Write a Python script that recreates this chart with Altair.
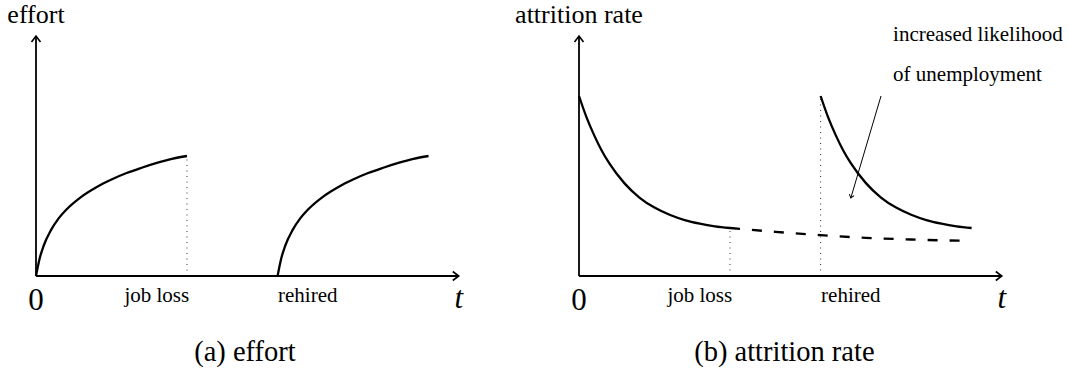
import altair as alt
import pandas as pd

# ---- key moments on the time axis (model time units) ----
t_start, t_job_loss, t_rehired = 0, 10, 16
t_axis_end = 28
level_axis_end = 10

# ---- (a) effort: concave rise during each employment spell ----
effort_spell1_t = [0, 0.25, 0.5, 1, 1.5, 2, 3, 4, 5, 6, 7, 8, 9, 10]
effort_spell1 = [0, 0.75, 1.25, 1.92, 2.40, 2.76, 3.30, 3.70, 4.02, 4.29, 4.51, 4.71, 4.88, 5.0]
effort_spell2_t = [16, 16.25, 16.5, 17, 17.5, 18, 19, 20, 21, 22, 23, 24, 25, 26]
effort_spell2 = [0, 0.75, 1.25, 1.92, 2.40, 2.76, 3.30, 3.70, 4.02, 4.29, 4.51, 4.71, 4.88, 5.0]

# ---- (b) attrition rate: decays with tenure, resets after rehiring ----
attr_spell1_t = [0, 0.5, 1, 1.5, 2, 3, 4, 5, 6, 7, 8, 9, 10]
attr_spell1 = [7.5, 6.61, 5.87, 5.23, 4.70, 3.87, 3.27, 2.85, 2.55, 2.33, 2.18, 2.07, 2.0]
attr_spell2_t = [16, 16.5, 17, 17.5, 18, 19, 20, 21, 22, 23, 24, 25, 26]
attr_spell2 = [7.5, 6.61, 5.87, 5.23, 4.70, 3.87, 3.27, 2.85, 2.55, 2.33, 2.18, 2.07, 2.0]
# path had the job not been lost
attr_no_loss_t = [10, 13, 16, 19, 22, 26]
attr_no_loss = [2.0, 1.84, 1.70, 1.59, 1.52, 1.46]

# ---- texts ----
tick_names = ["0", "job loss", "rehired", "t"]
tick_t = [0, 8, 18, 28]
note_lines = ["increased likelihood", "of unemployment"]
note_t, note_levels = 20.8, [9.79, 8.12]
note_arrow_t = [20, 18]
note_arrow_level = [7.5, 3.25]

SERIF = "Times New Roman, Liberation Serif, Times, serif"
ARROW = "M-1.2,-0.9L0,0L-1.2,0.9"
BLACK = "#000000"


def enc(x_domain):
    x = alt.X("t:Q", scale=alt.Scale(domain=x_domain, nice=False, zero=False), axis=None)
    y = alt.Y("v:Q", scale=alt.Scale(domain=[-4, 11.5], nice=False, zero=False), axis=None)
    x2 = alt.X2("t2:Q")
    y2 = alt.Y2("v2:Q")
    return x, y, x2, y2


def curve(t, v, x, y, dash=None):
    mk = dict(color=BLACK, strokeWidth=2.3, interpolate="monotone")
    if dash:
        mk["strokeDash"] = dash
    return alt.Chart(pd.DataFrame({"t": t, "v": v})).mark_line(**mk).encode(x=x, y=y)


def panel(title, caption, caption_t, x_domain, width, curves, dotted_t, dotted_top, extra=None):
    x, y, x2, y2 = enc(x_domain)
    axes = alt.Chart(pd.DataFrame({
        "t": [t_start, t_start], "v": [0, 0],
        "t2": [t_axis_end, t_start], "v2": [0, level_axis_end],
    })).mark_rule(color=BLACK, strokeWidth=1.8).encode(x=x, y=y, x2=x2, y2=y2)
    heads = alt.Chart(pd.DataFrame({
        "t": [t_axis_end, t_start], "v": [0, level_axis_end], "a": [0, 270],
    })).mark_point(shape=ARROW, filled=False, size=100, strokeWidth=1.6,
                   color=BLACK, opacity=1).encode(
        x=x, y=y, angle=alt.Angle("a:Q", scale=None))
    dotted = alt.Chart(pd.DataFrame({
        "t": dotted_t, "v": [0] * len(dotted_t), "t2": dotted_t, "v2": dotted_top,
    })).mark_rule(color="#333333", strokeWidth=1, strokeDash=[1, 4.5]).encode(
        x=x, y=y, x2=x2, y2=y2)
    ylabel = alt.Chart(pd.DataFrame({"t": [t_start], "v": [10.54], "s": [title]})).mark_text(
        font=SERIF, fontSize=26, align="center", baseline="alphabetic", color=BLACK
    ).encode(x=x, y=y, text="s:N")
    ticks_df = pd.DataFrame({"t": tick_t, "s": tick_names,
                             "v": [-1.42, -1.08, -1.08, -1.33]})
    tick_small = alt.Chart(ticks_df[ticks_df.s.isin(["job loss", "rehired"])]).mark_text(
        font=SERIF, fontSize=21, align="center", baseline="alphabetic", color=BLACK
    ).encode(x=x, y=y, text="s:N")
    tick_zero = alt.Chart(ticks_df[ticks_df.s == "0"]).mark_text(
        font=SERIF, fontSize=31, align="center", baseline="alphabetic", color=BLACK
    ).encode(x=x, y=y, text="s:N")
    tick_t_lbl = alt.Chart(ticks_df[ticks_df.s == "t"]).mark_text(
        font=SERIF, fontSize=31, fontStyle="italic", align="center",
        baseline="alphabetic", color=BLACK
    ).encode(x=x, y=y, text="s:N")
    cap = alt.Chart(pd.DataFrame({"t": [caption_t], "v": [-3.54], "s": [caption]})).mark_text(
        font=SERIF, fontSize=28.5, align="center", baseline="alphabetic", color=BLACK
    ).encode(x=x, y=y, text="s:N")
    layers = [dotted, axes, heads] + [c(x, y) for c in curves] + \
        [ylabel, tick_small, tick_zero, tick_t_lbl, cap]
    if extra:
        layers += extra(x, y)
    return alt.layer(*layers).properties(width=width, height=372)


def note(x, y):
    txt = alt.Chart(pd.DataFrame({"t": [note_t] * 2, "v": note_levels, "s": note_lines})).mark_text(
        font=SERIF, fontSize=21, align="left", baseline="alphabetic", color=BLACK
    ).encode(x=x, y=y, text="s:N")
    line = alt.Chart(pd.DataFrame({"t": note_arrow_t, "v": note_arrow_level})).mark_line(
        color=BLACK, strokeWidth=1).encode(x=x, y=y)
    head = alt.Chart(pd.DataFrame({"t": note_arrow_t[1:], "v": note_arrow_level[1:]})).mark_point(
        shape=ARROW, filled=False, size=30, strokeWidth=1, color=BLACK, opacity=1,
        angle=106.5).encode(x=x, y=y)
    return [line, head, txt]


panel_a = panel(
    "effort", "(a) effort", 13.84, [-2.384, 33.05], 535,
    [lambda x, y: curve(effort_spell1_t, effort_spell1, x, y),
     lambda x, y: curve(effort_spell2_t, effort_spell2, x, y)],
    [t_job_loss], [effort_spell1[-1]],
)

panel_b = panel(
    "attrition rate", "(b) attrition rate", 13.6, [-2.914, 32.45], 534,
    [lambda x, y: curve(attr_spell1_t, attr_spell1, x, y),
     lambda x, y: curve(attr_spell2_t, attr_spell2, x, y),
     lambda x, y: curve(attr_no_loss_t, attr_no_loss, x, y, dash=[10, 12])],
    [t_job_loss, t_rehired], [attr_spell1[-1], attr_spell2[0]],
    extra=note,
)

chart = alt.hconcat(panel_a, panel_b, spacing=0).properties(
    padding=0, bounds="flush", background="white"
).configure_view(stroke=None)

chart.save("out.html", embed_options={"renderer": "svg", "actions": False})
